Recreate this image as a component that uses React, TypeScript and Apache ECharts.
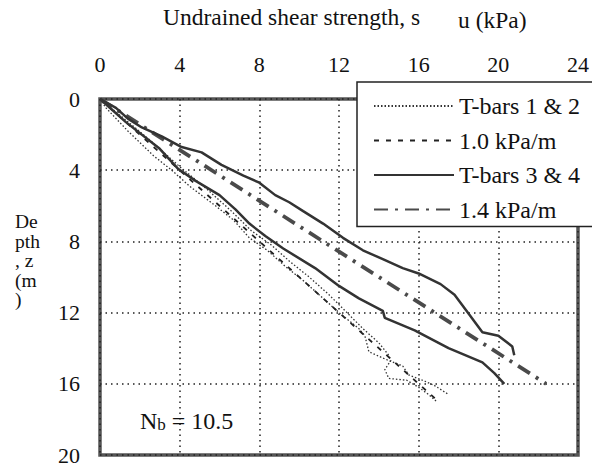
import React, { useEffect, useRef } from "react";
import * as echarts from "echarts";

// ---- axes ----
const xRange = [0, 24, 4]; // min, max, interval (kPa)
const yRange = [0, 20, 4]; // min, max, interval (m)

// ---- series data: [su (kPa), depth (m)] ----
const tbar1: number[][] = [
  [0, 0], [0.3, 0.5], [1.4, 1.8], [2.7, 3.2], [3.6, 4.0], [4.5, 4.9], [5.8, 6.0],
  [6.7, 6.8], [7.5, 7.8], [8.4, 8.5], [9.3, 9.4], [10.2, 10.2], [11.0, 11.0],
  [12.0, 12.0], [13.0, 12.9], [13.3, 13.3], [13.5, 14.2], [14.3, 14.6], [15.2, 15.0],
  [15.5, 15.5], [16.2, 15.8], [16.8, 16.1], [17.5, 16.6],
];
const tbar2: number[][] = [
  [0, 0], [1.1, 1.0], [2.6, 2.4], [4.0, 3.8], [5.3, 5.0], [6.6, 6.3], [7.6, 7.4],
  [8.6, 8.2], [9.5, 9.1], [10.5, 10.0], [11.5, 11.0], [12.4, 12.0], [13.2, 12.9],
  [14.0, 13.7], [14.5, 14.4], [14.6, 14.7], [14.3, 15.2], [14.5, 15.7], [15.4, 15.8],
  [16.0, 16.2], [16.5, 16.6], [16.9, 17.0],
];
const tbar3: number[][] = [
  [0, 0], [0.8, 0.5], [1.4, 1.1], [2.1, 1.6], [3.1, 2.1], [4.1, 2.7], [5.1, 3.0],
  [6.1, 3.7], [7.2, 4.3], [8.0, 4.7], [8.8, 5.4], [9.5, 5.8], [10.2, 6.3], [11.2, 7.0],
  [12.2, 7.8], [13.2, 8.5], [14.2, 9.0], [15.2, 9.5], [16.0, 9.8], [17.1, 10.4],
  [17.8, 11.0], [18.4, 11.9], [19.2, 13.1], [20.0, 13.3], [20.7, 13.9], [20.8, 14.4],
];
const tbar4: number[][] = [
  [0, 0], [1.3, 1.3], [3.0, 2.8], [3.9, 3.9], [4.8, 4.6], [6.0, 5.4], [6.8, 6.2],
  [7.5, 7.0], [8.3, 7.7], [9.2, 8.4], [10.8, 9.5], [12.0, 10.5], [13.0, 11.2],
  [14.2, 11.9], [14.3, 12.3], [15.8, 13.0], [17.5, 14.0], [19.2, 14.8], [19.8, 15.4],
  [20.3, 16.0],
];
const line10: number[][] = [[0, 0], [17, 17]];
const line14: number[][] = [[0, 0], [22.4, 16]];

const names = ["T-bars 1 & 2", "1.0 kPa/m", "T-bars 3 & 4", "1.4 kPa/m"];

const FONT = "Liberation Serif";

export default function App() {
  const ref = useRef<HTMLDivElement>(null);
  useEffect(() => {
    if (!ref.current) return;
    const chart = echarts.init(ref.current, undefined, { renderer: "svg" });
    const dotted = { color: "#333", width: 1.3, type: [1.5, 2] as any };
    const dashed = { color: "#222", width: 1.8, type: [5, 7] as any };
    const solid = { color: "#333", width: 2.5, type: "solid" as any };
    const dashDot = { color: "#4a4a4a", width: 3.8, type: [14, 7, 3, 7] as any };
    const mk = (name: string, data: number[][], lineStyle: any, z: number) => ({
      type: "line",
      name,
      data,
      symbol: "none",
      lineStyle,
      itemStyle: { color: lineStyle.color },
      z,
    });
    const txt = (size: number) => ({ fontFamily: FONT, fontSize: size, fill: "#111" });
    chart.setOption({
      animation: false,
      backgroundColor: "#fff",
      textStyle: { fontFamily: FONT },
      grid: {
        left: 100,
        top: 99,
        width: 481,
        height: 356,
        show: true,
        borderColor: "#555",
        borderWidth: 3.5,
        backgroundColor: "transparent",
      },
      xAxis: {
        type: "value",
        position: "top",
        min: xRange[0],
        max: xRange[1],
        interval: xRange[2],
        axisLine: { show: false },
        axisTick: { show: false },
        axisLabel: { fontFamily: FONT, fontSize: 22, color: "#111", margin: 24 },
        splitLine: { show: true, lineStyle: { color: "#222", width: 1.5, type: [1.5, 4] } },
      },
      yAxis: {
        type: "value",
        inverse: true,
        min: yRange[0],
        max: yRange[1],
        interval: yRange[2],
        axisLine: { show: false },
        axisTick: { show: false },
        axisLabel: { fontFamily: FONT, fontSize: 22, color: "#111", margin: 20 },
        splitLine: { show: true, lineStyle: { color: "#222", width: 1.5, type: [1.5, 4] } },
      },
      legend: {
        data: names,
        orient: "vertical",
        left: 357,
        top: 82,
        itemWidth: 80,
        itemHeight: 14,
        itemGap: 10.5,
        padding: [12, 24, 5, 16],
        backgroundColor: "#fff",
        borderColor: "#222",
        borderWidth: 1.5,
        itemStyle: { opacity: 0 },
        textStyle: { fontFamily: FONT, fontSize: 24, lineHeight: 24, color: "#111" },
        selectedMode: false,
      },
      series: [
        mk(names[0], tbar1, dotted, 2),
        mk(names[0], tbar2, dotted, 2),
        mk(names[1], line10, dashed, 3),
        mk(names[2], tbar3, solid, 4),
        mk(names[2], tbar4, solid, 4),
        mk(names[3], line14, dashDot, 3),
      ],
      graphic: [
        {
          type: "text",
          x: 163,
          y: 17,
          style: { ...txt(23.5), text: "Undrained shear strength, s", verticalAlign: "middle" },
        },
        {
          type: "text",
          x: 458,
          y: 20,
          style: { ...txt(23.5), text: "u (kPa)", verticalAlign: "middle" },
        },
        {
          type: "text",
          x: 15,
          y: 212,
          style: {
            ...txt(19.5),
            text: "De\npth\n, z\n(m\n)",
            lineHeight: 19.5,
            verticalAlign: "top",
          },
        },
        {
          type: "text",
          x: 140,
          y: 421,
          z: 10,
          style: {
            ...txt(24),
            text: "N{b|b} = 10.5",
            verticalAlign: "middle",
            rich: {
              b: { fontSize: 17, fontFamily: FONT, verticalAlign: "bottom", lineHeight: 22 },
            },
          },
        },
      ],
    });
    return () => chart.dispose();
  }, []);
  return (
    <div
      ref={ref}
      style={{ position: "fixed", left: 0, top: 0, width: 592, height: 470, background: "#fff" }}
    />
  );
}
